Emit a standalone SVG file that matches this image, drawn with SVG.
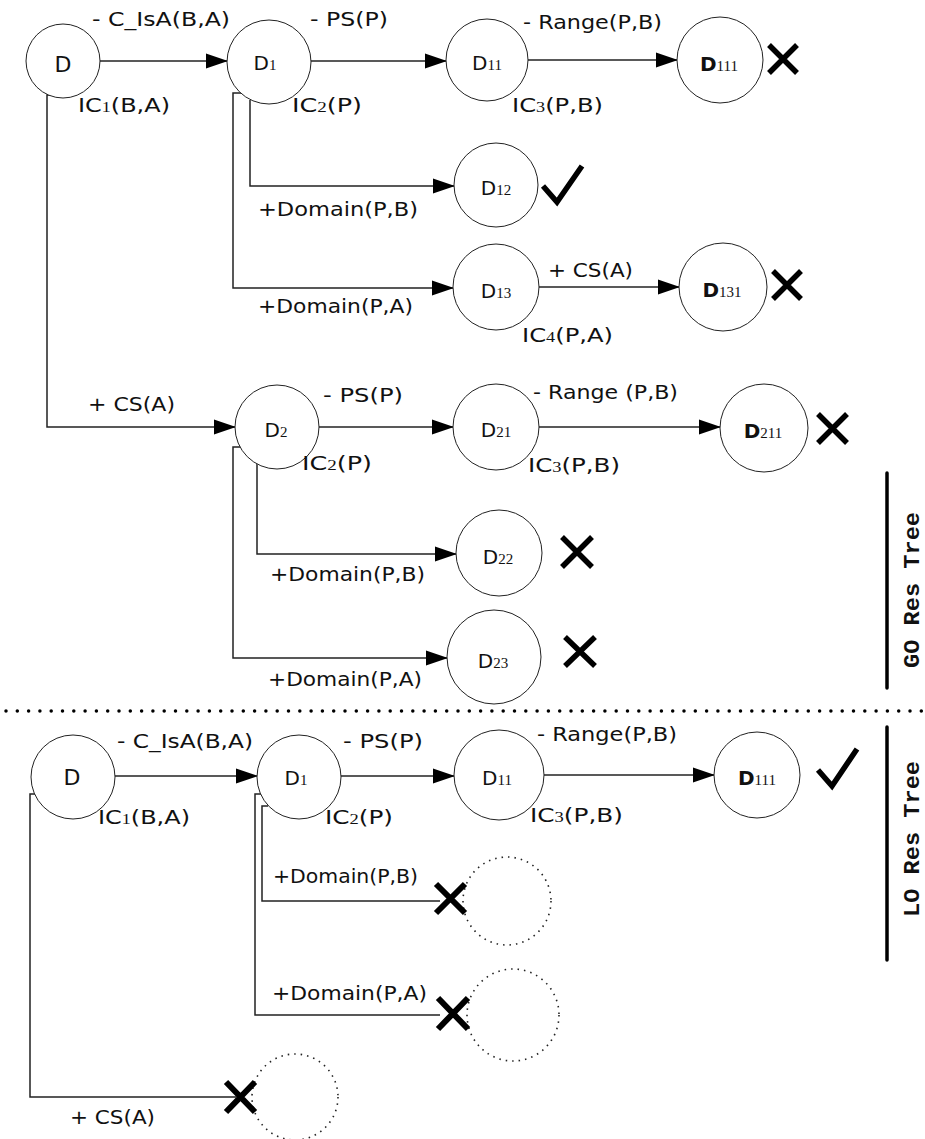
<svg xmlns="http://www.w3.org/2000/svg" width="925" height="1139" viewBox="0 0 925 1139">
<defs>
<style>
.lbl{font-family:"DejaVu Sans",Verdana,sans-serif;font-size:20px;fill:#111}
.nd{font-family:"DejaVu Sans",Verdana,sans-serif;font-size:20px;fill:#111;text-anchor:middle}
.sub{font-family:"Liberation Serif","Times New Roman",serif;font-size:15px}
.b{font-weight:bold}
.conn{fill:none;stroke:#222;stroke-width:1.5}
.arr{marker-end:url(#ah)}
.circ{fill:#fff;stroke:#222;stroke-width:1}
.dotc{fill:none;stroke:#222;stroke-width:1.6;stroke-dasharray:1.5 5}
.mark{fill:none;stroke:#000;stroke-width:5.5}
.bar{stroke:#000;stroke-width:3.5;stroke-linecap:round}
.side{font-family:"Liberation Mono","Courier New",monospace;font-size:22px;font-weight:bold;fill:#111;text-anchor:middle}
</style>
<marker id="ah" markerUnits="userSpaceOnUse" markerWidth="22" markerHeight="16" refX="21" refY="8" orient="auto">
<path d="M0,0.5 L22,8 L0,15.5 z" fill="#000"/>
</marker>
</defs>
<rect width="925" height="1139" fill="#fff"/>

<g id="connectors">
<path class="conn arr" d="M100,61 H227"/>
<path class="conn arr" d="M311,61 H446"/>
<path class="conn arr" d="M528,60 H677"/>
<path class="conn arr" d="M250,100 V186 H454"/>
<path class="conn arr" d="M241,93 H233 V288 H453"/>
<path class="conn arr" d="M539,287 H679"/>
<path class="conn arr" d="M53,95 H47 V427 H235"/>
<path class="conn arr" d="M319,427 H453"/>
<path class="conn arr" d="M539,427 H720"/>
<path class="conn arr" d="M257,464 V554 H456"/>
<path class="conn arr" d="M240,447 H233 V658 H447"/>
<path class="conn arr" d="M115,776 H257"/>
<path class="conn arr" d="M341,776 H454"/>
<path class="conn arr" d="M544,775 H714"/>
<path class="conn" d="M268,806 H262 V901 H440"/>
<path class="conn" d="M261,794 H255 V1015 H440"/>
<path class="conn" d="M35,794 H30 V1097 H236"/>
</g>

<g id="separator">
<line x1="6" y1="711" x2="925" y2="711" stroke="#000" stroke-width="3.5" stroke-linecap="round" stroke-dasharray="0 11.3"/>
</g>

<g id="go-D"><circle class="circ" cx="63" cy="61" r="37"/><text class="nd" x="63" y="72" style="font-size:22px">D</text></g>
<g id="go-D1"><circle class="circ" cx="269" cy="62" r="42"/><text class="nd" x="265" y="70">D<tspan class="sub">1</tspan></text></g>
<g id="go-D11"><circle class="circ" cx="487" cy="60" r="41"/><text class="nd" x="487" y="70">D<tspan class="sub">11</tspan></text></g>
<g id="go-D111"><circle class="circ" cx="720" cy="60" r="43"/><text class="nd" x="719" y="71"><tspan class="b">D</tspan><tspan class="sub">111</tspan></text>
<path class="mark" d="M769,45 L797,73 M797,45 L769,73"/></g>
<g id="go-D12"><circle class="circ" cx="496" cy="185" r="42"/><text class="nd" x="496" y="195">D<tspan class="sub">12</tspan></text>
<path class="mark" d="M543,186 L557,202 L582,166"/></g>
<g id="go-D13"><circle class="circ" cx="496" cy="287" r="43"/><text class="nd" x="496" y="298">D<tspan class="sub">13</tspan></text></g>
<g id="go-D131"><circle class="circ" cx="723" cy="287" r="44"/><text class="nd" x="722" y="297"><tspan class="b">D</tspan><tspan class="sub">131</tspan></text>
<path class="mark" d="M773,271 L801,299 M801,271 L773,299"/></g>
<g id="go-D2"><circle class="circ" cx="277" cy="427" r="42"/><text class="nd" x="276" y="437">D<tspan class="sub">2</tspan></text></g>
<g id="go-D21"><circle class="circ" cx="496" cy="427" r="43"/><text class="nd" x="496" y="437">D<tspan class="sub">21</tspan></text></g>
<g id="go-D211"><circle class="circ" cx="764" cy="428" r="44"/><text class="nd" x="763" y="438"><tspan class="b">D</tspan><tspan class="sub">211</tspan></text>
<path class="mark" d="M818,414 L847,443 M847,414 L818,443"/></g>
<g id="go-D22"><circle class="circ" cx="499" cy="553" r="43"/><text class="nd" x="498" y="564">D<tspan class="sub">22</tspan></text>
<path class="mark" d="M562,537 L592,567 M592,537 L562,567"/></g>
<g id="go-D23"><circle class="circ" cx="494" cy="657" r="47"/><text class="nd" x="493" y="668">D<tspan class="sub">23</tspan></text>
<path class="mark" d="M565,637 L595,666 M595,637 L565,666"/></g>

<g id="lo-D"><circle class="circ" cx="73" cy="777" r="42"/><text class="nd" x="72" y="785" style="font-size:22px">D</text></g>
<g id="lo-D1"><circle class="circ" cx="299" cy="777" r="42"/><text class="nd" x="296" y="785">D<tspan class="sub">1</tspan></text></g>
<g id="lo-D11"><circle class="circ" cx="499" cy="775" r="45"/><text class="nd" x="497" y="785">D<tspan class="sub">11</tspan></text></g>
<g id="lo-D111"><circle class="circ" cx="757" cy="775" r="43"/><text class="nd" x="757" y="785"><tspan class="b">D</tspan><tspan class="sub">111</tspan></text>
<path class="mark" d="M818,770 L832,786 L857,749"/></g>
<g id="lo-X1"><circle class="dotc" cx="507" cy="901" r="44"/><path class="mark" style="stroke-width:6" d="M436,884 L465,913 M465,884 L436,913"/></g>
<g id="lo-X2"><circle class="dotc" cx="513" cy="1015" r="46"/><path class="mark" style="stroke-width:6" d="M438,998 L468,1029 M468,998 L438,1029"/></g>
<g id="lo-X3"><circle class="dotc" cx="295" cy="1097" r="43"/><path class="mark" style="stroke-width:6" d="M226,1082 L255,1112 M255,1082 L226,1112"/></g>

<g id="labels">
<text class="lbl" x="92" y="26" textLength="138" lengthAdjust="spacingAndGlyphs">- C_IsA(B,A)</text>
<text class="lbl" x="310" y="26" textLength="78" lengthAdjust="spacingAndGlyphs">- PS(P)</text>
<text class="lbl" x="523" y="29" textLength="139" lengthAdjust="spacingAndGlyphs">- Range(P,B)</text>
<text class="lbl" x="78" y="112" textLength="92" lengthAdjust="spacingAndGlyphs">IC<tspan class="sub">1</tspan>(B,A)</text>
<text class="lbl" x="292" y="112" textLength="70" lengthAdjust="spacingAndGlyphs">IC<tspan class="sub">2</tspan>(P)</text>
<text class="lbl" x="512" y="112" textLength="91" lengthAdjust="spacingAndGlyphs">IC<tspan class="sub">3</tspan>(P,B)</text>
<text class="lbl" x="258" y="216" textLength="160" lengthAdjust="spacingAndGlyphs">+Domain(P,B)</text>
<text class="lbl" x="258" y="313" textLength="155" lengthAdjust="spacingAndGlyphs">+Domain(P,A)</text>
<text class="lbl" x="548" y="277" textLength="85" lengthAdjust="spacingAndGlyphs">+ CS(A)</text>
<text class="lbl" x="522" y="342" textLength="91" lengthAdjust="spacingAndGlyphs">IC<tspan class="sub">4</tspan>(P,A)</text>
<text class="lbl" x="88" y="411" textLength="87" lengthAdjust="spacingAndGlyphs">+ CS(A)</text>
<text class="lbl" x="323" y="402" textLength="80" lengthAdjust="spacingAndGlyphs">- PS(P)</text>
<text class="lbl" x="533" y="399" textLength="145" lengthAdjust="spacingAndGlyphs">- Range (P,B)</text>
<text class="lbl" x="528" y="472" textLength="92" lengthAdjust="spacingAndGlyphs">IC<tspan class="sub">3</tspan>(P,B)</text>
<text class="lbl" x="302" y="470" textLength="70" lengthAdjust="spacingAndGlyphs">IC<tspan class="sub">2</tspan>(P)</text>
<text class="lbl" x="270" y="581" textLength="155" lengthAdjust="spacingAndGlyphs">+Domain(P,B)</text>
<text class="lbl" x="268" y="686" textLength="154" lengthAdjust="spacingAndGlyphs">+Domain(P,A)</text>

<text class="lbl" x="117" y="748" textLength="136" lengthAdjust="spacingAndGlyphs">- C_IsA(B,A)</text>
<text class="lbl" x="343" y="748" textLength="80" lengthAdjust="spacingAndGlyphs">- PS(P)</text>
<text class="lbl" x="537" y="741" textLength="140" lengthAdjust="spacingAndGlyphs">- Range(P,B)</text>
<text class="lbl" x="98" y="824" textLength="92" lengthAdjust="spacingAndGlyphs">IC<tspan class="sub">1</tspan>(B,A)</text>
<text class="lbl" x="325" y="824" textLength="68" lengthAdjust="spacingAndGlyphs">IC<tspan class="sub">2</tspan>(P)</text>
<text class="lbl" x="530" y="822" textLength="93" lengthAdjust="spacingAndGlyphs">IC<tspan class="sub">3</tspan>(P,B)</text>
<text class="lbl" x="273" y="883" textLength="145" lengthAdjust="spacingAndGlyphs">+Domain(P,B)</text>
<text class="lbl" x="272" y="1000" textLength="155" lengthAdjust="spacingAndGlyphs">+Domain(P,A)</text>
<text class="lbl" x="70" y="1124" textLength="85" lengthAdjust="spacingAndGlyphs">+ CS(A)</text>
</g>

<g id="side-labels">
<line class="bar" x1="887" y1="473" x2="887" y2="688"/>
<text class="side" transform="translate(919,590) rotate(-90)" textLength="156" lengthAdjust="spacingAndGlyphs">GO Res Tree</text>
<line class="bar" x1="887" y1="727" x2="887" y2="960"/>
<text class="side" transform="translate(919,839) rotate(-90)" textLength="156" lengthAdjust="spacingAndGlyphs">LO Res Tree</text>
</g>
</svg>
